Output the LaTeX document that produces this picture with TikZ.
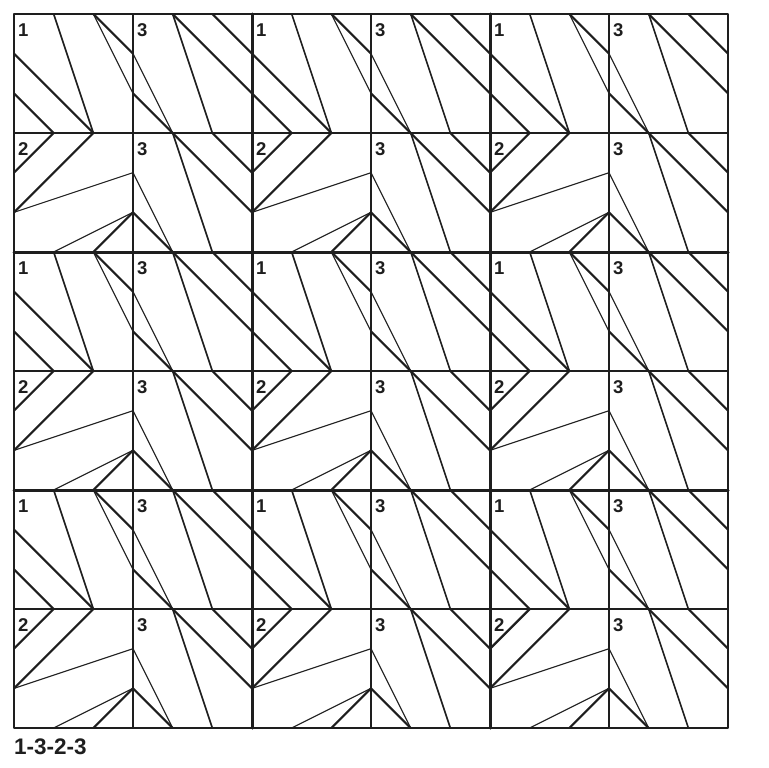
\documentclass[tikz,border=0pt]{standalone}
\usepackage{fontspec}
\setmainfont{Liberation Sans}
\definecolor{inkc}{RGB}{30,30,30}
\newcommand\tileOne{%
  \draw[med] (1,0) -- (2,3);
  \draw[thk] (0,1) -- (2,3);
  \draw[thk] (0,2) -- (1,3);
  \draw[thk] (2,0) -- (3,1);
  \draw[thn] (2,0) -- (3,2);
  \node[tlabel] (lab\c\r) at (0.1,0.56) {1};}
\newcommand\tileTwo{%
  \draw[thk] (1,0) -- (0,1);
  \draw[thk] (2,0) -- (0,2);
  \draw[thn] (0,2) -- (3,1);
  \draw[thn] (1,3) -- (3,2);
  \draw[thk] (2,3) -- (3,2);
  \node[tlabel] (lab\c\r) at (0.1,0.56) {2};}
\newcommand\tileThree{%
  \draw[med] (1,0) -- (2,3);
  \draw[thk] (1,0) -- (3,2);
  \draw[thk] (2,0) -- (3,1);
  \draw[thn] (0,1) -- (1,3);
  \draw[thk] (0,2) -- (1,3);
  \node[tlabel] (lab\c\r) at (0.1,0.56) {3};}
\begin{document}
\begin{tikzpicture}[x=39.6667pt,y=39.6667pt, line cap=round, line join=round,
  thk/.style={draw=inkc, line width=2.2pt},
  med/.style={draw=inkc, line width=1.6pt},
  thn/.style={draw=inkc, line width=1.1pt},
  gridln/.style={draw=inkc, line width=1.4pt},
  blockln/.style={draw=inkc, line width=3pt},
  outerln/.style={draw=inkc, line width=2pt},
  tlabel/.style={anchor=base west, inner sep=0pt, text=inkc,
    font=\fontsize{18.5}{18.5}\selectfont\bfseries}]
\useasboundingbox (-0.353,-1.008) rectangle (19.008,18.353);
\foreach \c in {0,...,5} {
  \foreach \r in {0,...,5} {
    \begin{scope}[shift={(3*\c,18-3*\r)}, yscale=-1]
      \ifodd\c\relax \tileThree \else \ifodd\r\relax \tileTwo \else \tileOne \fi \fi
    \end{scope}
  }
}
\foreach \k in {3,9,15} {
  \draw[gridln] (\k,0) -- (\k,18);
  \draw[gridln] (0,\k) -- (18,\k);
}
\foreach \k in {6,12} {
  \draw[blockln] (\k,0) -- (\k,18);
  \draw[blockln] (0,\k) -- (18,\k);
}
\draw[outerln, line cap=butt] (0,0) rectangle (18,18);
\node[anchor=base west, inner sep=0pt, text=inkc,
  font=\fontsize{22.5}{22.5}\selectfont\bfseries] (caption) at (0,-0.68) {1-3-2-3};
\end{tikzpicture}
\end{document}
